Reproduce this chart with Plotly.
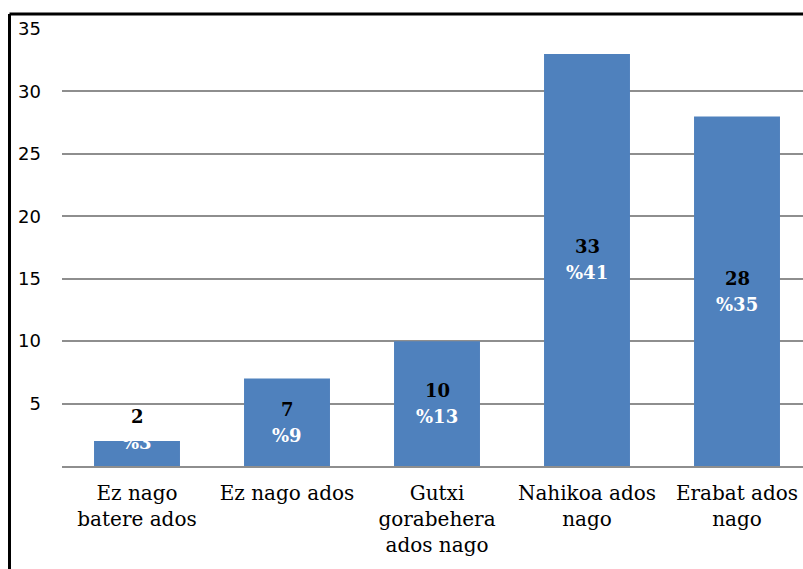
import plotly.graph_objects as go

categories = ["Ez nago<br>batere ados", "Ez nago ados", "Gutxi<br>gorabehera<br>ados nago",
              "Nahikoa ados<br>nago", "Erabat ados<br>nago"]
counts = [2, 7, 10, 33, 28]
percents = ["%3", "%9", "%13", "%41", "%35"]
y_ticks = [5, 10, 15, 20, 25, 30, 35]

BLUE = "#4F81BD"
GRID = "#8E8E8E"
SERIF = "DejaVu Serif"

fig = go.Figure()
fig.add_trace(go.Bar(
    x=list(range(len(categories))), y=counts,
    marker=dict(color=BLUE, line=dict(width=0)),
    width=0.573, hoverinfo="skip",
))

for i, (c, p) in enumerate(zip(counts, percents)):
    small = c * 12.48 < 60
    yy = c if small else c / 2
    shift = 12 if small else 0
    fig.add_annotation(x=i, y=yy, yshift=shift + 13, text=f"<b>{c}</b>", showarrow=False,
                       font=dict(family=SERIF, size=18, color="black"),
                       xanchor="center", yanchor="middle")
    fig.add_annotation(x=i, y=yy, yshift=shift - 13, text=f"<b>{p}</b>", showarrow=False,
                       font=dict(family=SERIF, size=18, color="white"),
                       xanchor="center", yanchor="middle")

# outer frame (left and top border)
fx = (9.5 - 62) / 741
fy = 1 + (29 - 14) / 437
fig.add_shape(type="line", xref="paper", yref="paper", x0=fx, x1=fx, y0=-1, y1=fy,
              line=dict(color="black", width=3))
fig.add_shape(type="line", xref="paper", yref="paper", x0=fx, x1=1.2, y0=fy, y1=fy,
              line=dict(color="black", width=3))

fig.update_layout(
    width=803, height=569,
    margin=dict(l=62, r=0, t=29, b=103),
    paper_bgcolor="white", plot_bgcolor="white",
    showlegend=False,
    xaxis=dict(
        range=[-0.5, 4.44], tickmode="array", tickvals=list(range(len(categories))),
        ticktext=categories, showgrid=False, zeroline=False,
        showline=True, linecolor=GRID, linewidth=2, ticks="",
        tickfont=dict(family=SERIF, size=20, color="black"),
        ticklabelstandoff=8,
    ),
    yaxis=dict(
        range=[0, 35], tickmode="array", tickvals=y_ticks, ticktext=[str(v) for v in y_ticks],
        showgrid=True, gridcolor=GRID, gridwidth=2, zeroline=False, showline=False,
        tickfont=dict(family="DejaVu Sans", size=18, color="black"),
        ticks="", ticklabelstandoff=20,
    ),
)

fig.write_html("out.html", config={"displayModeBar": False},
               post_script="document.body.style.margin='0';document.body.style.overflow='hidden';")
